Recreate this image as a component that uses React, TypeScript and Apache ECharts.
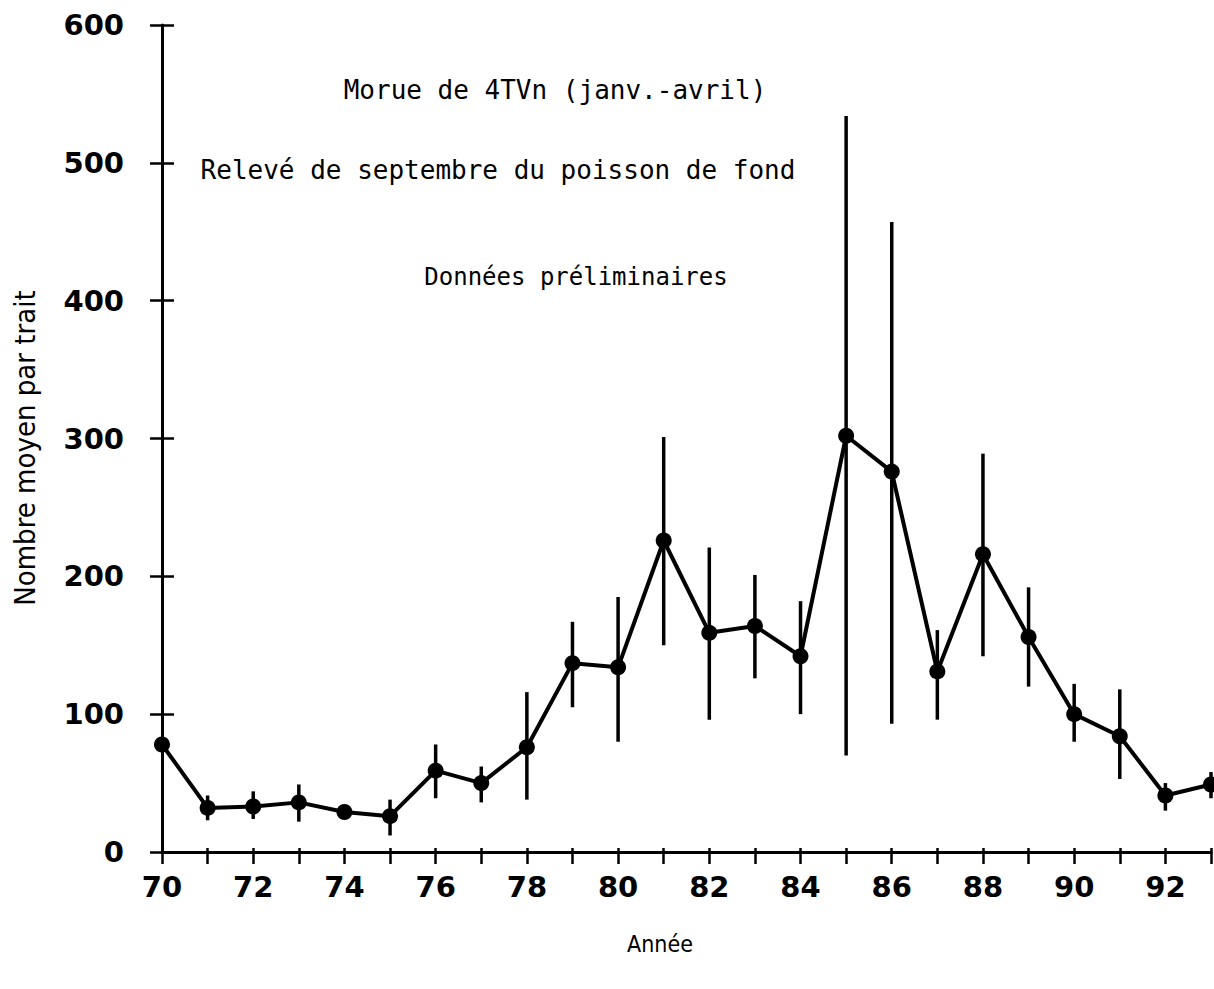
import React, { useEffect, useRef } from "react";
import * as echarts from "echarts";

const years = [70, 71, 72, 73, 74, 75, 76, 77, 78, 79, 80, 81, 82, 83, 84, 85, 86, 87, 88, 89, 90, 91, 92, 93];
const means = [78, 32, 33, 36, 29, 26, 59, 50, 76, 137, 134, 226, 159, 164, 142, 302, 276, 131, 216, 156, 100, 84, 41, 49];
const lows = [78, 23, 24, 22, 25, 12, 39, 36, 38, 105, 80, 150, 96, 126, 100, 70, 93, 96, 142, 120, 80, 53, 30, 39];
const highs = [78, 41, 44, 49, 33, 38, 78, 62, 116, 167, 185, 301, 221, 201, 182, 534, 457, 161, 289, 192, 122, 118, 50, 58];
const yTicks = [0, 100, 200, 300, 400, 500, 600];

const title1 = "Morue de 4TVn (janv.-avril)";
const title2 = "Relevé de septembre du poisson de fond";
const title3 = "Données préliminaires";
const yName = "Nombre moyen par trait";
const xName = "Année";

export default function App() {
  const ref = useRef<HTMLDivElement>(null);
  useEffect(() => {
    document.body.style.margin = "0";
    const chart = echarts.init(ref.current!, null, { renderer: "svg" });
    const labelFont = { fontFamily: "DejaVu Sans", fontWeight: "bold" as const, fontSize: 29, color: "#000" };
    const mono = "DejaVu Sans Mono, Liberation Mono, monospace";
    const sans = "Liberation Sans Narrow, DejaVu Sans Condensed, Liberation Sans, sans-serif";
    chart.setOption({
      animation: false,
      backgroundColor: "#fff",
      grid: { left: 162, right: 3, top: 25, bottom: 137 },
      xAxis: [
        {
          type: "value", min: 70, max: 93, interval: 1,
          axisLine: { lineStyle: { color: "#000", width: 3 } },
          axisTick: { show: true, length: 12, lineStyle: { color: "#000", width: 2.5 } },
          splitLine: { show: false },
          axisLabel: { ...labelFont, margin: 20, formatter: (v: number) => (v % 2 === 0 && v < 93 ? String(v) : "") },
        },
        {
          type: "value", min: 70, max: 93, interval: 1, position: "bottom",
          axisLine: { show: false },
          axisTick: { show: true, inside: true, length: 4, lineStyle: { color: "#000", width: 2.5 } },
          splitLine: { show: false },
          axisLabel: { show: false },
        },
      ],
      yAxis: [
        {
          type: "value", min: 0, max: 600, interval: 100,
          axisLine: { show: true, lineStyle: { color: "#000", width: 3 } },
          axisTick: { show: true, length: 12, lineStyle: { color: "#000", width: 2.5 } },
          splitLine: { show: false },
          axisLabel: { ...labelFont, margin: 38, formatter: (v: number) => (yTicks.includes(v) ? String(v) : "") },
        },
        {
          type: "value", min: 0, max: 600, interval: 100, position: "left",
          axisLine: { show: false },
          axisTick: { show: true, inside: true, length: 12, lineStyle: { color: "#000", width: 2.5 } },
          splitLine: { show: false },
          axisLabel: { show: false },
        },
      ],
      series: [
        {
          type: "custom",
          xAxisIndex: 0, yAxisIndex: 0,
          data: years.map((y, i) => [y, lows[i], highs[i]]),
          renderItem: (params: any, api: any) => {
            const x = api.value(0);
            const p1 = api.coord([x, api.value(1)]);
            const p2 = api.coord([x, api.value(2)]);
            return {
              type: "line",
              shape: { x1: p1[0], y1: p1[1], x2: p2[0], y2: p2[1] },
              style: { stroke: "#000", lineWidth: 3.5 },
            };
          },
          z: 2,
        },
        {
          type: "line",
          xAxisIndex: 0, yAxisIndex: 0,
          data: years.map((y, i) => [y, means[i]]),
          symbol: "circle",
          symbolSize: 16,
          lineStyle: { color: "#000", width: 4 },
          itemStyle: { color: "#000" },
          z: 3,
        },
      ],
      graphic: [
        { type: "text", x: 555, y: 90, style: { text: title1, font: `26px ${mono}`, fill: "#000", align: "center", verticalAlign: "middle" } },
        { type: "text", x: 498, y: 170, style: { text: title2, font: `26px ${mono}`, fill: "#000", align: "center", verticalAlign: "middle" } },
        { type: "text", x: 576, y: 277, style: { text: title3, font: `24px ${mono}`, fill: "#000", align: "center", verticalAlign: "middle" } },
        { type: "text", x: 660, y: 944, style: { text: xName, font: `23px ${sans}`, fill: "#000", align: "center", verticalAlign: "middle" } },
        { type: "text", x: 25, y: 448, rotation: Math.PI / 2, style: { text: yName, font: `29px ${sans}`, fill: "#000", align: "center", verticalAlign: "middle" } },
      ],
    });
    return () => chart.dispose();
  }, []);
  return <div ref={ref} style={{ width: 1214, height: 989 }} />;
}
